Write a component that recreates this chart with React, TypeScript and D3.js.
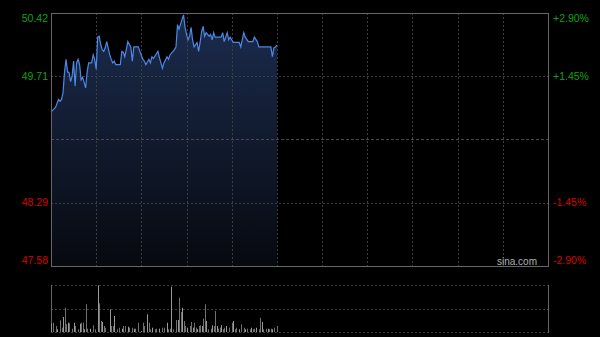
import React from "react";
import * as d3 from "d3";

// minute offsets from 09:30 (HK session, 330 trading minutes)
const priceMinutes = [0,3,5,6,7,8,9,10,11,12,13,14,15,16,17,18,19,20,21,23,24,25,27,28,29,30,31,32,33,34,35,36,37,39,40,41,42,43,46,47,48,49,50,51,53,54,55,58,59,61,62,63,65,66,67,68,71,72,73,74,75,77,78,79,81,82,83,84,85,87,88,89,90,91,92,93,94,95,97,98,99,100,101,102,103,105,106,107,108,109,113,114,115,117,118,119,121,125,126,128,129,131,134,135,137,138,146,147,148,149,150];
const prices = [49.31,49.36,49.45,49.43,49.45,49.53,49.76,49.90,49.76,49.75,49.65,49.71,49.88,49.60,49.86,49.90,49.84,49.67,49.70,49.58,49.76,49.86,49.86,49.95,49.90,49.79,50.15,50.16,50.07,50.01,49.99,50.03,50.10,49.95,49.90,49.86,49.88,49.84,49.84,49.99,49.98,49.93,50.01,50.10,50.04,49.88,50.04,50.04,49.99,49.90,49.88,49.84,49.90,49.86,49.93,49.91,49.99,49.92,49.86,49.80,49.86,49.93,49.90,49.95,49.99,50.01,50.04,50.29,50.24,50.35,50.40,50.26,50.18,50.12,50.16,50.26,50.12,50.04,50.09,49.99,50.09,50.21,50.27,50.16,50.20,50.16,50.18,50.12,50.20,50.15,50.15,50.20,50.10,50.20,50.12,50.15,50.09,50.09,50.04,50.20,50.15,50.10,50.10,50.15,50.10,50.04,50.04,49.93,50.03,50.04,50.06];

const volMinutes = [0,1,3,4,6,7,8,9,10,11,12,14,15,16,18,19,20,21,22,23,24,26,28,29,31,32,33,34,35,36,39,40,41,42,44,45,47,48,49,51,52,54,55,56,58,60,61,62,64,65,66,67,69,70,72,74,75,77,78,79,80,81,83,84,85,86,87,88,89,90,92,93,94,95,96,97,98,99,100,101,102,103,104,106,107,108,109,110,111,112,113,114,115,116,118,120,121,122,123,125,126,128,129,130,132,133,134,135,136,138,139,140,141,143,144,145,146,147,148,150];
const volumes = [830,930,600,270,1170,430,1500,2430,770,930,870,330,930,600,270,830,930,930,270,2770,330,330,670,270,4670,2870,1100,1000,600,430,2270,600,600,1600,270,430,330,600,600,530,430,430,330,330,930,100,930,600,1770,930,270,430,270,330,330,430,430,930,270,330,4530,270,1200,1200,3430,2000,2430,1100,600,430,600,1000,430,930,430,270,600,670,600,1330,2770,1100,270,330,670,600,2100,600,330,430,670,270,430,600,430,930,1100,270,430,270,770,430,270,330,270,430,270,330,430,270,1430,1000,270,330,330,270,330,270,430,600];

const leftLabels = ["50.42", "49.71", "48.29", "47.58"];
const rightLabels = ["+2.90%", "+1.45%", "-1.45%", "-2.90%"];
const labelPrices = [50.42, 49.71, 48.29, 47.58];
const prevClose = 49.0;
const totalMinutes = 330;

export default function App() {
  const L = 51, R = 548, T = 13, B = 266;
  const VT = 285, VB = 332;
  const x = d3.scaleLinear().domain([0, totalMinutes]).range([L, R]);
  const y = d3.scaleLinear().domain([prevClose * 0.971, prevClose * 1.029]).range([B, T]);
  const vy = d3.scaleLinear().domain([0, 4700]).range([VB, VT]);

  const pts = priceMinutes.map((m, i) => [m, prices[i]] as [number, number]);
  const line = d3.line<[number, number]>().x(d => x(d[0])).y(d => y(d[1]));
  const area = d3.area<[number, number]>().x(d => x(d[0])).y0(B).y1(d => y(d[1]));

  const vGrid = d3.range(30, totalMinutes, 30);
  const font = "Arial, 'Liberation Sans', sans-serif";
  const green = "#0fa30f";
  const red = "#d90000";
  const grid = "#3e3e3e";
  const border = "#666";

  const labelY = (i: number) => y(labelPrices[i]);
  const baseline = (i: number) => (i === 0 ? "hanging" : i === 3 ? "auto" : "middle");
  const dy = (i: number) => (i === 0 ? 1 : i === 3 ? -2 : 1);

  return (
    <svg width={600} height={337} style={{ position: "absolute", left: 0, top: 0, background: "#000" }}>
      <rect x={0} y={0} width={600} height={337} fill="#000" />
      <defs>
        <linearGradient id="fillg" x1="0" y1="0" x2="0" y2="1">
          <stop offset="0%" stopColor="#1b2c4e" />
          <stop offset="100%" stopColor="#07090f" />
        </linearGradient>
      </defs>
      <path d={area(pts) || ""} fill="url(#fillg)" />
      {vGrid.map(m => (
        <line key={m} x1={Math.round(x(m)) + 0.5} x2={Math.round(x(m)) + 0.5} y1={T} y2={B} stroke={grid} strokeDasharray="2,2" />
      ))}
      {[49.71, 48.29].map(p => (
        <line key={p} x1={L} x2={R} y1={Math.round(y(p)) + 0.5} y2={Math.round(y(p)) + 0.5} stroke={grid} strokeDasharray="2,2" />
      ))}
      <line x1={L} x2={R} y1={Math.round(y(prevClose)) + 0.5} y2={Math.round(y(prevClose)) + 0.5} stroke="#4a4a4a" strokeDasharray="3,2" />
      <path d={line(pts) || ""} fill="none" stroke="#4d88e6" strokeWidth={1.2} />
      <rect x={L + 0.5} y={T + 0.5} width={R - L} height={B - T} fill="none" stroke={border} />
      {leftLabels.map((t, i) => (
        <text key={t} x={48} y={labelY(i) + dy(i)} textAnchor="end" dominantBaseline={baseline(i)} fontFamily={font} fontSize={10.5} fill={i < 2 ? green : red}>{t}</text>
      ))}
      {rightLabels.map((t, i) => (
        <text key={t} x={553} y={labelY(i) + dy(i)} textAnchor="start" dominantBaseline={baseline(i)} fontFamily={font} fontSize={10.5} fill={i < 2 ? green : red}>{t}</text>
      ))}
      <text x={537} y={265} textAnchor="end" fontFamily={font} fontSize={10} fill="#b0b0b0">sina.com</text>
      {/* volume panel */}
      {[VT, (VT + VB) / 2, VB].map(v => (
        <line key={v} x1={L} x2={R} y1={Math.round(v) + 0.5} y2={Math.round(v) + 0.5} stroke={grid} strokeDasharray="2,2" />
      ))}
      <line x1={L + 0.5} x2={L + 0.5} y1={VT} y2={VB} stroke={border} />
      <line x1={R + 0.5} x2={R + 0.5} y1={VT} y2={VB + 1} stroke={border} />
      {volMinutes.map((m, i) => (
        <rect key={m} x={Math.round(x(m))} y={vy(volumes[i])} width={1} height={VB - vy(volumes[i])} fill={i % 3 === 0 ? "#9a9a9a" : "#707070"} />
      ))}
    </svg>
  );
}
